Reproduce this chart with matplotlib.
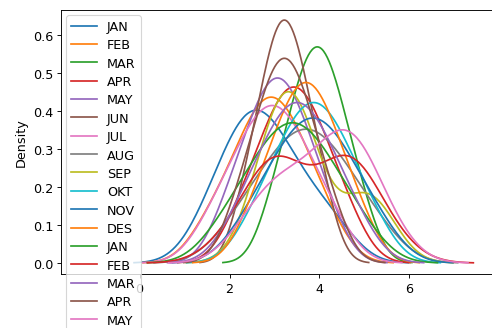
import matplotlib
matplotlib.use("Agg")
import matplotlib.pyplot as plt
import seaborn as sns

plt.rcParams["font.size"] = 11.2

# month labels as they appear in the legend (17 series)
months = ["JAN", "FEB", "MAR", "APR", "MAY", "JUN", "JUL", "AUG", "SEP",
          "OKT", "NOV", "DES", "JAN", "FEB", "MAR", "APR", "MAY"]

# observed values per series (reconstructed from the density shapes)
jan1 = [1.50, 1.95, 2.20, 2.42, 2.60, 2.80, 3.05, 3.35, 3.75, 4.35]
feb1 = [1.55, 2.10, 2.39, 2.62, 2.81, 3.01, 3.20, 3.43, 3.70, 4.17]
mar1 = [2.97, 3.34, 3.55, 3.72, 3.88, 4.03, 4.18, 4.35, 4.57, 4.94]
apr1 = [2.22, 2.67, 2.94, 3.15, 3.34, 3.52, 3.71, 3.92, 4.19, 4.64]
may1 = [1.92, 2.34, 2.59, 2.80, 2.98, 3.15, 3.33, 3.53, 3.79, 4.20]
jun1 = [2.34, 2.67, 2.87, 3.02, 3.15, 3.29, 3.42, 3.58, 3.77, 4.10]
jul1 = [1.60, 2.10, 2.40, 2.64, 2.85, 3.05, 3.26, 3.50, 3.80, 4.30]
aug1 = [2.12, 2.70, 3.05, 3.33, 3.58, 3.82, 4.07, 4.35, 4.69, 5.28]
sep1 = [2.66, 2.91, 3.06, 3.19, 3.30, 3.41, 3.54, 3.69, 3.94, 4.85, 5.10, 5.35]
okt1 = [2.55, 3.04, 3.33, 3.56, 3.77, 3.97, 4.18, 4.41, 4.70, 5.19]
nov1 = [2.39, 2.93, 3.25, 3.51, 3.74, 3.96, 4.19, 4.45, 4.77, 5.31]
des1 = [2.52, 2.96, 3.22, 3.43, 3.61, 3.79, 3.97, 4.18, 4.44, 4.88]
jan2 = [1.89, 2.45, 2.78, 3.05, 3.28, 3.52, 3.75, 4.02, 4.35, 4.91]
feb2 = [2.10, 2.75, 2.90, 3.05, 3.20, 3.35, 4.30, 4.45, 4.60, 4.75, 4.90, 5.50]
mar2 = [2.18, 2.67, 2.96, 3.19, 3.40, 3.60, 3.81, 4.04, 4.33, 4.82]
apr2 = [2.17, 2.57, 2.80, 2.98, 3.14, 3.30, 3.46, 3.64, 3.87, 4.27]
may2 = [2.40, 2.85, 3.15, 3.45, 3.80, 4.15, 4.40, 4.55, 4.70, 4.85, 5.10, 5.55]

series = [jan1, feb1, mar1, apr1, may1, jun1, jul1, aug1, sep1,
          okt1, nov1, des1, jan2, feb2, mar2, apr2, may2]

fig = plt.figure(figsize=(6.0, 4.012), dpi=82)
ax = fig.add_axes([0.124, 0.164, 0.886, 0.803])

for i, (name, vals) in enumerate(zip(months, series)):
    sns.kdeplot(x=vals, ax=ax, label=name, color="C%d" % (i % 10))

ax.set_xlim(-1.75, 7.95)
ax.set_ylim(-0.029, 0.666)
ax.set_xticks([0, 2, 4, 6])
ax.set_ylabel("Density")
ax.legend(loc="upper left", borderaxespad=0.4, labelspacing=0.42)

fig.savefig("out.png", dpi=82)
